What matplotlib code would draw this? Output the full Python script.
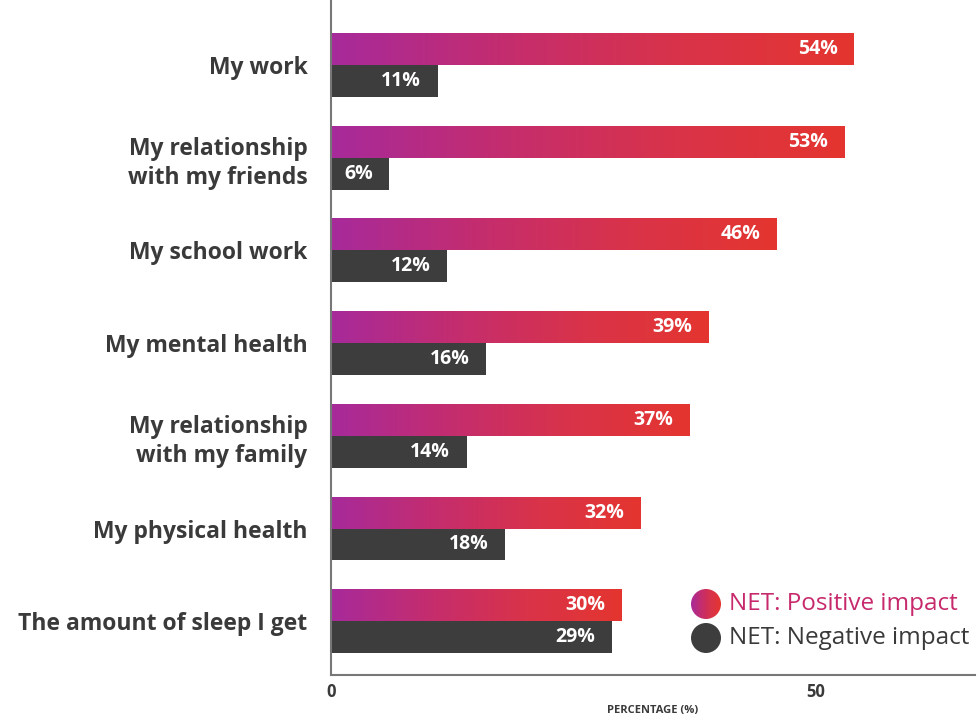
import numpy as np
import matplotlib.pyplot as plt
from matplotlib.colors import LinearSegmentedColormap
from matplotlib.patches import Circle

# ==========================================
# Data
# ==========================================
categories = [
    "My work",
    "My relationship\nwith my friends",
    "My school work",
    "My mental health",
    "My relationship\nwith my family",
    "My physical health",
    "The amount of sleep I get",
]
positive = [54, 53, 46, 39, 37, 32, 30]
negative = [11, 6, 12, 16, 14, 18, 29]
series_names = ["NET: Positive impact", "NET: Negative impact"]
x_ticks = [0, 50]
x_label = "PERCENTAGE (%)"

# ==========================================
# Style
# ==========================================
FONT = ["Open Sans", "DejaVu Sans"]
plt.rcParams['font.family'] = FONT
TEXT_DARK = "#3a3a3a"
NEG_COLOR = "#3d3d3d"
grad_cmap = LinearSegmentedColormap.from_list(
    "pos", ["#a72a9b", "#c42d6e", "#d9334a", "#e4352f"])
gradient = np.linspace(0, 1, 256).reshape(1, -1)

fig = plt.figure(figsize=(9.78, 7.18), dpi=100)
ax = fig.add_axes([331 / 978, 43 / 718, 644 / 978, 675 / 718])

y = np.arange(len(categories))
h = 0.345

pos_bars = ax.barh(y - h / 2, positive, height=h, color="none", edgecolor="none")
ax.barh(y + h / 2, negative, height=h, color=NEG_COLOR, edgecolor="none")

# gradient fill per positive bar
for rect, val in zip(pos_bars, positive):
    y0 = rect.get_y()
    im = ax.imshow(gradient, cmap=grad_cmap, aspect="auto",
                   extent=(0, val, y0 + h, y0), zorder=2, interpolation="bicubic")
    im.set_clip_path(rect)

# value labels
for i, (p, n) in enumerate(zip(positive, negative)):
    ax.text(p - 1.7, i - h / 2, f"{p}%", ha="right", va="center",
            color="white", fontsize=14, fontweight="bold", zorder=3)
    ax.text(n - 1.7, i + h / 2, f"{n}%", ha="right", va="center",
            color="white", fontsize=14, fontweight="bold", zorder=3)

ax.set_xlim(0, 66.5)
ax.set_ylim(6.58, -0.70)
ax.set_yticks(y)
ax.set_yticklabels(categories, fontsize=16.5, fontweight="bold",
                   color=TEXT_DARK, linespacing=1.3)
ax.set_xticks(x_ticks)
ax.set_xticklabels([str(t) for t in x_ticks], fontsize=12,
                   fontweight="bold", color=TEXT_DARK)
ax.tick_params(axis="both", length=0)
ax.tick_params(axis="y", pad=17)
ax.tick_params(axis="x", pad=6)
ax.set_xlabel(x_label, fontsize=8, fontweight="bold", color=TEXT_DARK, labelpad=3)

for side in ["top", "right"]:
    ax.spines[side].set_visible(False)
for side in ["left", "bottom"]:
    ax.spines[side].set_color("#777777")
    ax.spines[side].set_linewidth(1.5)

# legend: circle icons drawn in small square axes
def legend_icon(cx, cy, r, gradient_fill):
    iax = fig.add_axes([(cx - r) / 978, 1 - (cy + r) / 718, 2 * r / 978, 2 * r / 718])
    iax.set_xlim(0, 1)
    iax.set_ylim(0, 1)
    iax.axis("off")
    circ = Circle((0.5, 0.5), 0.5, transform=iax.transData,
                  facecolor=NEG_COLOR if not gradient_fill else "none",
                  edgecolor="none")
    iax.add_patch(circ)
    if gradient_fill:
        im = iax.imshow(gradient, cmap=grad_cmap, aspect="auto",
                        extent=(0, 1, 0, 1), interpolation="bicubic")
        im.set_clip_path(circ)

legend_icon(706, 604, 15, True)
legend_icon(706, 638, 15, False)
fig.text(729 / 978, 1 - 604 / 718, series_names[0], fontsize=17.5,
         color="#c72a6c", va="center", ha="left")
fig.text(729 / 978, 1 - 638 / 718, series_names[1], fontsize=17.5,
         color=TEXT_DARK, va="center", ha="left")

fig.savefig("out.png", dpi=100)
